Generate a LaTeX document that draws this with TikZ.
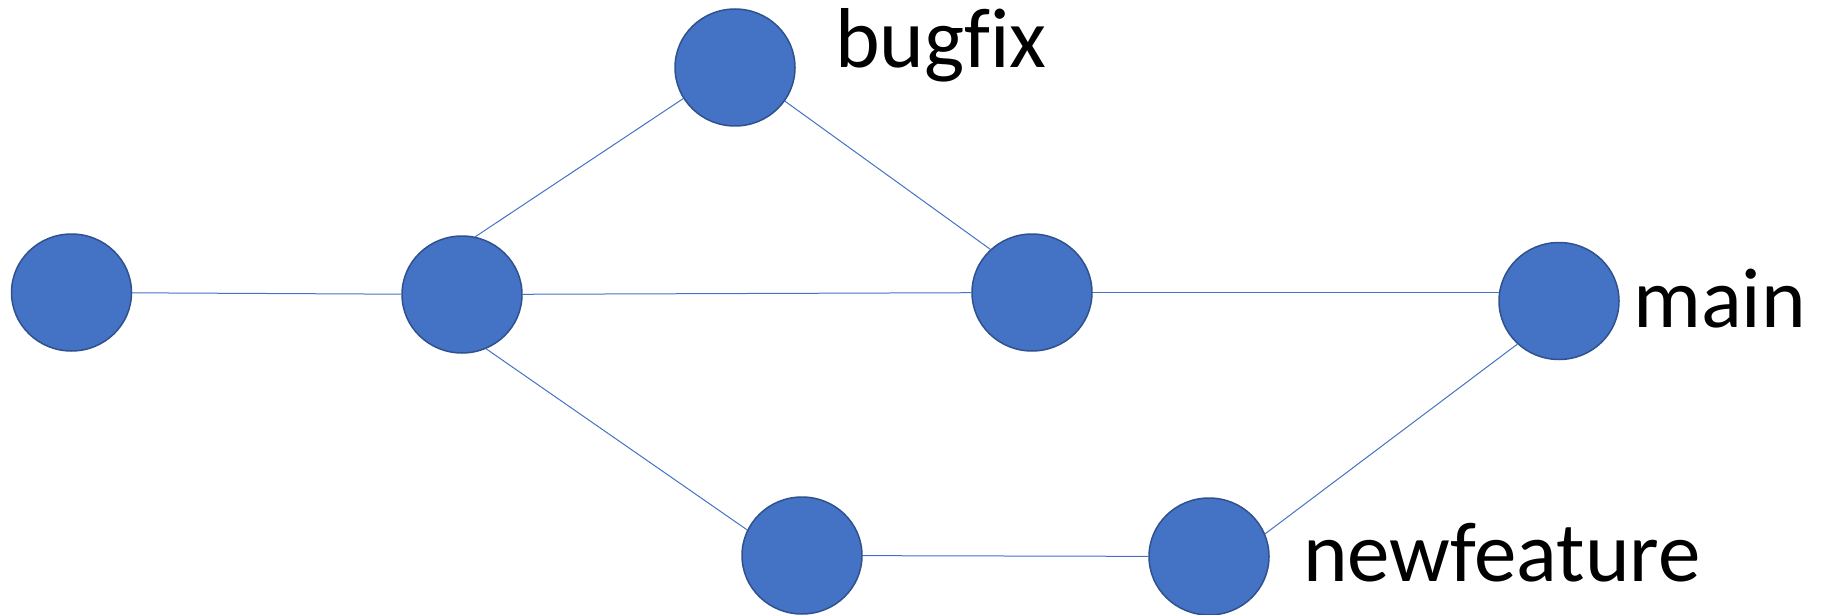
\documentclass[tikz,border=0pt]{standalone}
\usepackage{fontspec}
\setmainfont[Ligatures=NoCommon]{Carlito}
\usetikzlibrary{shapes.geometric,backgrounds}
\definecolor{nodefill}{HTML}{4472C4}
\definecolor{nodeline}{HTML}{2F528F}
\begin{document}
\begin{tikzpicture}[x=1pt,y=-1pt,
  commit/.style={ellipse,fill=nodefill,draw=nodeline,line width=1.5pt,minimum width=120pt,minimum height=117pt,inner sep=0pt},
  edge/.style={draw=nodefill,line width=1pt},
  label/.style={anchor=base west,inner sep=0pt,font=\fontsize{85}{95}\selectfont}]
\useasboundingbox (0,0) rectangle (1832,615);
\node[commit] (n1) at (71.5,292.5) {};
\node[commit] (n2) at (462,294.5) {};
\node[commit] (n3) at (735,67.5) {};
\node[commit] (n4) at (1032,292.5) {};
\node[commit] (n5) at (1559,301) {};
\node[commit] (n6) at (802,555.5) {};
\node[commit] (n7) at (1209,556.5) {};
\node[label] (tb) at (835,68) {bugfix};
\node[label] (tm) at (1633,327) {main};
\node[label] (tn) at (1303,581) {newfeature};
\begin{scope}[on background layer]
\draw[edge] (n1) -- (n2);
\draw[edge] (n2) -- (n4);
\draw[edge] (n2.77) -- (n3.211);
\draw[edge] (n3.326) -- (n4.134);
\draw[edge] (n4) -- (n4 -| n5);
\draw[edge] (n2.294) -- (n6.155);
\draw[edge] (n6) -- (n7);
\draw[edge] (n7.22) -- (n5.226);
\end{scope}
\end{tikzpicture}
\end{document}
